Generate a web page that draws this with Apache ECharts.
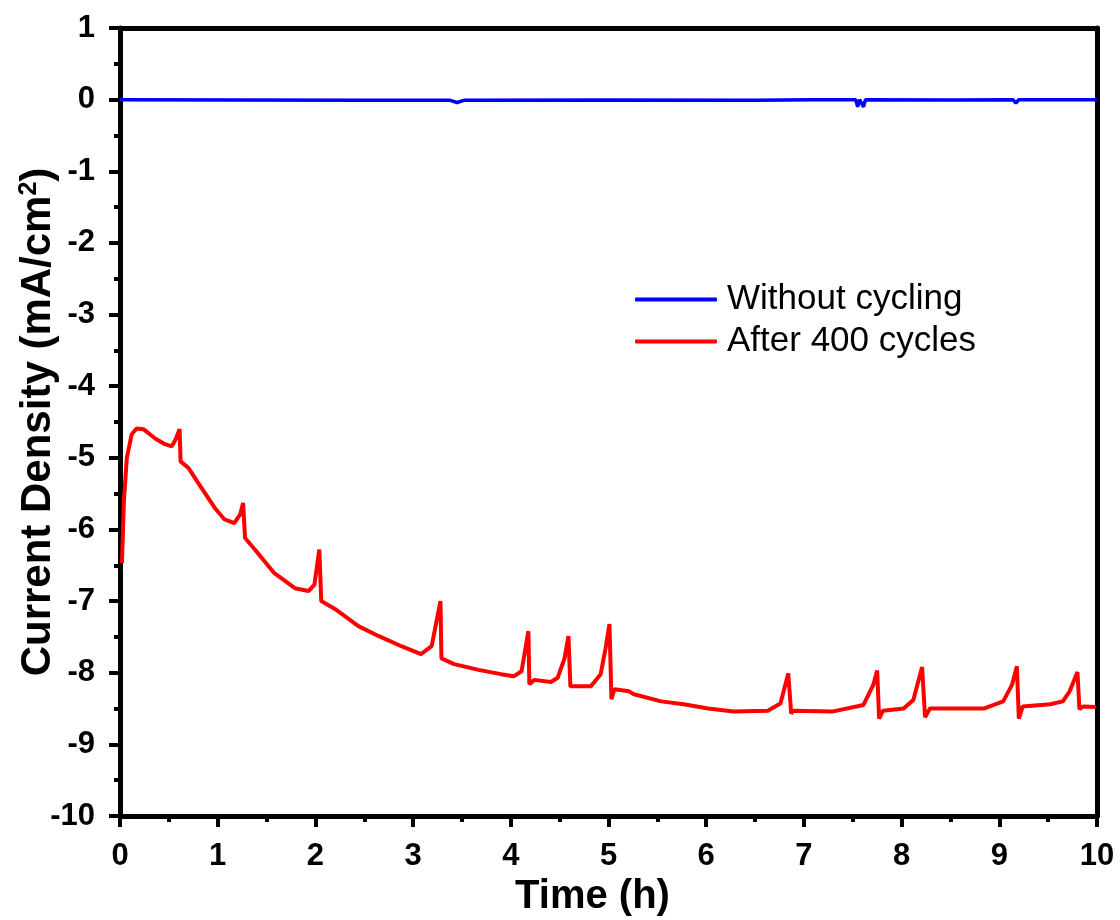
<!DOCTYPE html>
<html>
<head>
<meta charset="utf-8">
<script src="https://cdn.jsdelivr.net/npm/echarts@6/dist/echarts.min.js"></script>
<style>html,body{margin:0;padding:0;background:#fff}#c{width:1120px;height:920px}</style>
</head>
<body>
<div id="c"></div>
<script>
// Data
const xTicks = [0,1,2,3,4,5,6,7,8,9,10];
const yTicks = [1,0,-1,-2,-3,-4,-5,-6,-7,-8,-9,-10];
const seriesNames = ['Without cycling', 'After 400 cycles'];

const blueTime = [0, 1.2, 2.5, 3.38, 3.45, 3.52, 5.0, 6.5, 7.1, 7.53, 7.55, 7.57, 7.59, 7.61, 7.63, 8.5, 9.14, 9.17, 9.2, 10];
const blueVal  = [0, -0.005, -0.01, -0.01, -0.04, -0.01, -0.005, -0.01, 0, 0, -0.1, 0, 0, -0.1, 0, -0.005, 0, -0.05, 0, 0];

const redTime = [0.02,0.04,0.07,0.12,0.17,0.24,0.36,0.46,0.53,0.57,0.61,0.62,0.70,0.80,0.97,1.07,1.17,1.23,1.26,1.28,1.38,1.58,1.79,1.93,1.99,2.04,2.06,2.20,2.44,2.65,2.88,3.08,3.19,3.28,3.29,3.42,3.67,3.90,4.03,4.11,4.18,4.19,4.24,4.41,4.48,4.55,4.59,4.61,4.82,4.92,4.97,5.01,5.03,5.06,5.21,5.26,5.54,5.77,6.02,6.28,6.63,6.76,6.84,6.87,6.89,7.30,7.61,7.71,7.75,7.77,7.81,8.02,8.12,8.21,8.24,8.29,8.84,9.04,9.13,9.18,9.20,9.24,9.52,9.65,9.72,9.80,9.82,9.86,9.99];
const redVal  = [-6.47,-5.6,-5.0,-4.67,-4.59,-4.6,-4.73,-4.81,-4.84,-4.74,-4.6,-5.05,-5.14,-5.35,-5.7,-5.86,-5.91,-5.79,-5.63,-6.12,-6.28,-6.61,-6.82,-6.86,-6.77,-6.28,-7.0,-7.11,-7.35,-7.49,-7.63,-7.74,-7.63,-7.0,-7.8,-7.88,-7.96,-8.02,-8.05,-7.98,-7.42,-8.16,-8.1,-8.13,-8.07,-7.8,-7.49,-8.19,-8.19,-8.02,-7.66,-7.32,-8.37,-8.23,-8.26,-8.3,-8.4,-8.44,-8.5,-8.54,-8.53,-8.43,-8.01,-8.57,-8.53,-8.54,-8.45,-8.17,-7.97,-8.64,-8.53,-8.5,-8.38,-7.92,-8.62,-8.5,-8.5,-8.4,-8.17,-7.91,-8.64,-8.47,-8.44,-8.4,-8.26,-7.99,-8.51,-8.47,-8.48];

const zip = (a, b) => a.map((v, i) => [v, b[i]]);

const FONT = "'Liberation Sans', Arial, sans-serif";
const chart = echarts.init(document.getElementById('c'), null, {renderer: 'canvas'});

const lblStyle = {color: '#000', fontFamily: FONT, fontWeight: 'bold', fontSize: 31};
const axLine = {show: true, onZero: false, lineStyle: {color: '#000', width: 5}};

chart.setOption({
  animation: false,
  backgroundColor: '#fff',
  grid: {left: 120, right: 23, top: 28, bottom: 104, containLabel: false, outerBoundsMode: 'none'},
  legend: {
    show: true,
    orient: 'vertical',
    left: 630,
    top: 277,
    itemWidth: 82,
    itemHeight: 4,
    itemGap: 7,
    icon: 'roundRect',
    textStyle: {fontFamily: FONT, fontSize: 35, lineHeight: 35, color: '#000', padding: [0, 0, 0, 5]},
    data: seriesNames
  },
  xAxis: [{
    type: 'value', min: 0, max: 10, interval: 1,
    position: 'bottom',
    name: 'Time (h)', nameLocation: 'middle', nameGap: 58,
    nameTextStyle: {fontFamily: FONT, fontWeight: 'bold', fontSize: 40, color: '#000', padding: [0, 32, 0, 0]},
    axisLine: axLine,
    axisTick: {show: true, length: 11, inside: false, lineStyle: {color: '#000', width: 4}},
    minorTick: {show: true, splitNumber: 2, length: 6, lineStyle: {color: '#000', width: 4}},
    axisLabel: Object.assign({margin: 25, formatter: v => xTicks.includes(v) ? String(v) : ''}, lblStyle),
    splitLine: {show: false}
  }, {
    type: 'value', min: 0, max: 10, interval: 1, position: 'top',
    axisLine: axLine, axisTick: {show: false}, axisLabel: {show: false}, splitLine: {show: false}
  }],
  yAxis: [{
    type: 'value', min: -10, max: 1, interval: 1,
    position: 'left',
    name: 'Current Density (mA/cm{sup|2})', nameLocation: 'middle', nameGap: 60, nameRotate: 90,
    nameMoveOverlap: false,
    nameTextStyle: {fontFamily: FONT, fontWeight: 'bold', fontSize: 42, color: '#000',
      rich: {sup: {fontFamily: FONT, fontWeight: 'bold', fontSize: 25, color: '#000', verticalAlign: 'top', padding: [0, 0, 18, 0]}}},
    axisLine: axLine,
    axisTick: {show: true, length: 11, inside: false, lineStyle: {color: '#000', width: 4}},
    minorTick: {show: true, splitNumber: 2, length: 6, lineStyle: {color: '#000', width: 4}},
    axisLabel: Object.assign({margin: 25, formatter: v => yTicks.includes(v) ? String(v) : ''}, lblStyle),
    splitLine: {show: false}
  }, {
    type: 'value', min: -10, max: 1, interval: 1, position: 'right',
    axisLine: axLine, axisTick: {show: false}, axisLabel: {show: false}, splitLine: {show: false}
  }],
  series: [{
    name: seriesNames[1], type: 'line', xAxisIndex: 0, yAxisIndex: 0,
    data: zip(redTime, redVal), symbol: 'none', smooth: false,
    lineStyle: {color: '#ff0000', width: 4}, itemStyle: {color: '#ff0000'}, z: 3
  }, {
    name: seriesNames[0], type: 'line', xAxisIndex: 0, yAxisIndex: 0,
    data: zip(blueTime, blueVal), symbol: 'none', smooth: false,
    lineStyle: {color: '#0000ff', width: 3.5}, itemStyle: {color: '#0000ff'}, z: 4
  }]
});
</script>
</body>
</html>
